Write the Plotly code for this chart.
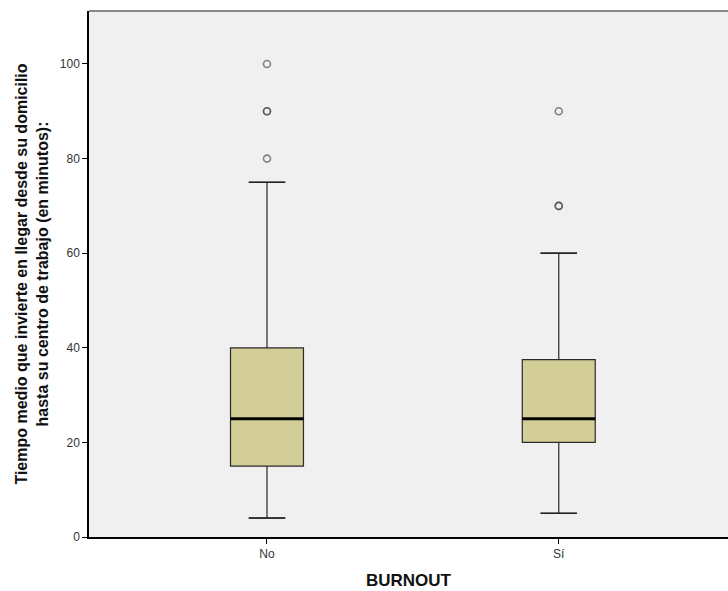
import plotly.graph_objects as go

categories = ["No", "Sí"]
q1 = [15, 20]
median = [25, 25]
q3 = [40, 37.5]
lower_whisker = [4, 5]
upper_whisker = [75, 60]
outliers = [[80, 90, 90, 100], [70, 70, 90]]
y_ticks = [0, 20, 40, 60, 80, 100]

box_width = 0.25
cap_width = 0.125
FONT = "Arial, Liberation Sans, sans-serif"

fig = go.Figure()
for i, cat in enumerate(categories):
    fig.add_trace(go.Box(
        x=[i], q1=[q1[i]], median=[median[i]], q3=[q3[i]],
        lowerfence=[lower_whisker[i]], upperfence=[upper_whisker[i]],
        width=box_width, fillcolor="#D3CE97",
        line=dict(color="#2a2a2a", width=1.2),
        boxpoints=False, showlegend=False, hoverinfo="skip",
    ))
    # median line
    fig.add_trace(go.Scatter(
        x=[i - box_width / 2, i + box_width / 2], y=[median[i], median[i]],
        mode="lines", line=dict(color="black", width=3),
        showlegend=False, hoverinfo="skip",
    ))
    # whisker caps
    for v in (lower_whisker[i], upper_whisker[i]):
        fig.add_trace(go.Scatter(
            x=[i - cap_width / 2, i + cap_width / 2], y=[v, v],
            mode="lines", line=dict(color="#222222", width=1.5),
            showlegend=False, hoverinfo="skip",
        ))
    # outliers
    fig.add_trace(go.Scatter(
        x=[i] * len(outliers[i]), y=outliers[i], mode="markers",
        marker=dict(symbol="circle-open", size=7, color="rgba(70,70,70,0.65)",
                    line=dict(width=1.6)),
        showlegend=False, hoverinfo="skip",
    ))

fig.update_layout(
    width=728, height=591,
    margin=dict(l=89, r=0, t=11, b=54),
    paper_bgcolor="white", plot_bgcolor="#F0F0F0",
    font=dict(family=FONT, color="#222222"),
    xaxis=dict(
        range=[-0.61, 1.58], tickvals=[0, 1], ticktext=categories,
        showgrid=False, zeroline=False, showline=True, linecolor="black", linewidth=1.5,
        ticks="outside", ticklen=5, tickcolor="black",
        tickfont=dict(size=12, color="#333333"),
        title=dict(text="<b>BURNOUT</b>", font=dict(size=17, color="#111111"), standoff=14),
    ),
    yaxis=dict(
        range=[0, 111.2], tickvals=y_ticks,
        showgrid=False, zeroline=False, showline=True, linecolor="black", linewidth=1.5,
        ticks="outside", ticklen=5, tickcolor="black",
        tickfont=dict(size=12, color="#333333"),
        title=dict(text="<b>Tiempo medio que invierte en llegar desde su domicilio<br>hasta su centro de trabajo (en minutos):</b>",
                   font=dict(size=16, color="#111111"), standoff=7),
    ),
    shapes=[dict(type="line", xref="paper", yref="paper", x0=0, x1=1, y0=1, y1=1,
                 line=dict(color="#888888", width=2))],
)

fig.write_html("out.html")
